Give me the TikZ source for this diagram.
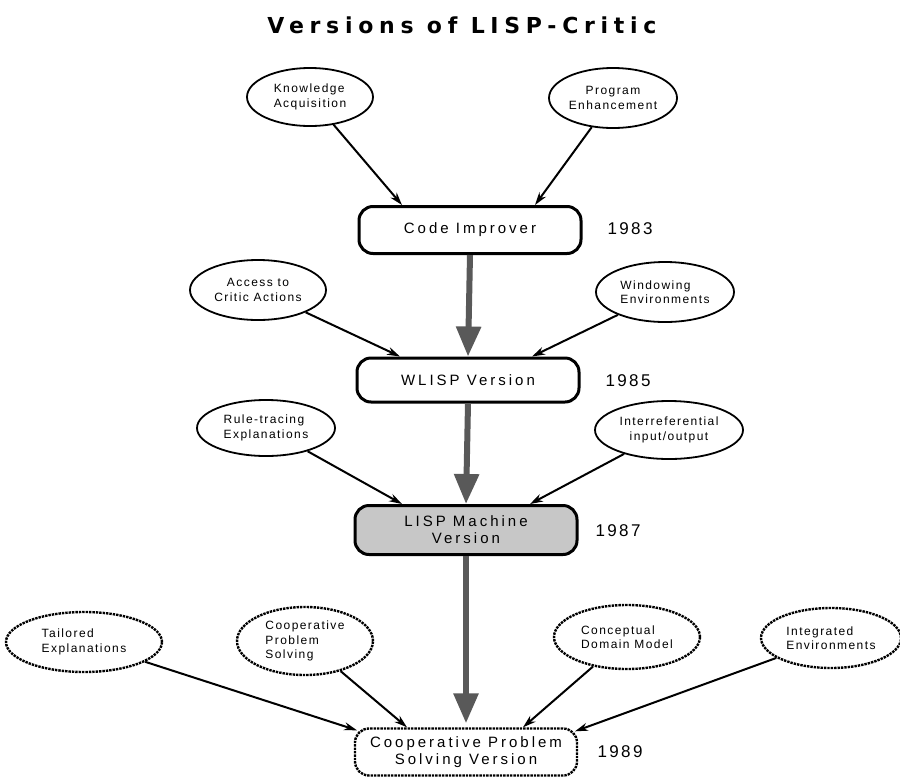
\documentclass[tikz,border=0pt]{standalone}
\usepackage{fontspec}
\setmainfont{Liberation Sans}
\newfontfamily\titlefont[LetterSpace=26]{DejaVu Sans}
\newfontfamily\elfont[LetterSpace=12]{Liberation Sans}
\newfontfamily\boxfont[LetterSpace=20]{Liberation Sans}
\newfontfamily\yrfont[LetterSpace=14]{Liberation Sans}
\usetikzlibrary{shapes.geometric,arrows.meta,calc}
\begin{document}
\begin{tikzpicture}[x=1pt,y=-1pt,
  idea/.style={ellipse,draw,line width=1.8pt,inner sep=0pt,align=left,
    font=\elfont\fontsize{12}{14.5}\selectfont},
  rough/.style={line width=2.4pt,densely dotted},
  vbox/.style={rectangle,draw,line width=3pt,rounded corners=14pt,
    minimum width=222pt,minimum height=47pt,inner sep=0pt,align=center,
    font=\boxfont\fontsize{15}{17}\selectfont},
  yr/.style={font=\yrfont\fontsize{17}{19}\selectfont,inner sep=0pt},
  thinarrow/.style={line width=2pt,-{Stealth[length=13pt,width=8pt]}},
  bigarrow/.style={line width=6pt,black!65,-{Triangle[width=24pt,length=30pt]}}
]
\useasboundingbox (0,0) rectangle (900,777);
\fill[white] (0,0) rectangle (900,777);

\node[font=\titlefont\bfseries\fontsize{22}{26}\selectfont] (title) at (462,25) {Versions of LISP-Critic};

% row 1
\node[idea,minimum width=126pt,minimum height=58pt] (ka) at (310,97) {Knowledge\\Acquisition};
\node[idea,align=center,minimum width=128pt,minimum height=60pt] (pe) at (613,98) {Program\\Enhancement};
\node[vbox] (ci) at (470,230) {Code Improver};
\node[yr] (y83) at (630,229) {1983};

% row 2
\node[idea,align=center,minimum width=136pt,minimum height=60pt] (ac) at (258,290) {Access to\\Critic Actions};
\node[idea,minimum width=138pt,minimum height=60pt] (we) at (665,292) {Windowing\\Environments};
\node[vbox,minimum height=44pt] (wl) at (468,380) {WLISP Version};
\node[yr] (y85) at (628,381) {1985};

% row 3
\node[idea,minimum width=138pt,minimum height=56pt] (rt) at (266,428) {Rule-tracing\\Explanations};
\node[idea,align=center,minimum width=148pt,minimum height=58pt] (ir) at (669,430) {Interreferential\\input/output};
\node[vbox,fill=black!22,minimum height=49pt] (lm) at (466,530) {LISP Machine\\Version};
\node[yr] (y87) at (618,531) {1987};

% row 4
\node[idea,rough,minimum width=156pt,minimum height=60pt] (te) at (84,642) {Tailored\\Explanations};
\node[idea,rough,minimum width=136pt,minimum height=68pt] (cp) at (305,641) {Cooperative\\Problem\\Solving};
\node[idea,rough,minimum width=146pt,minimum height=64pt] (cd) at (627,637) {Conceptual\\Domain Model};
\node[idea,rough,minimum width=140pt,minimum height=60pt] (ie) at (831,638) {Integrated\\Environments};
\node[vbox,rough,minimum height=47pt] (fin) at (466,752) {Cooperative Problem\\Solving Version};
\node[yr] (y89) at (620,752) {1989};

% thin arrows
\draw[thinarrow] (ka) -- ($(ci.north)+(-68,0)$);
\draw[thinarrow] (pe) -- ($(ci.north)+(65,0)$);
\draw[thinarrow] (ac) -- ($(wl.north)+(-68,0)$);
\draw[thinarrow] (we) -- ($(wl.north)+(64,0)$);
\draw[thinarrow] (rt) -- ($(lm.north)+(-64,0)$);
\draw[thinarrow] (ir) -- ($(lm.north)+(64,0)$);
\draw[thinarrow] (te) -- ($(fin.north)+(-109,3)$);
\draw[thinarrow] (cp) -- ($(fin.north)+(-59,0)$);
\draw[thinarrow] (cd) -- ($(fin.north)+(57,0)$);
\draw[thinarrow] (ie) -- ($(fin.north)+(109,4)$);

% big grey arrows
\draw[bigarrow] (ci.south) -- (wl.north);
\draw[bigarrow] (wl.south) -- (lm.north);
\draw[bigarrow] (lm.south) -- ($(fin.north)+(0,-4)$);
\end{tikzpicture}
\end{document}
